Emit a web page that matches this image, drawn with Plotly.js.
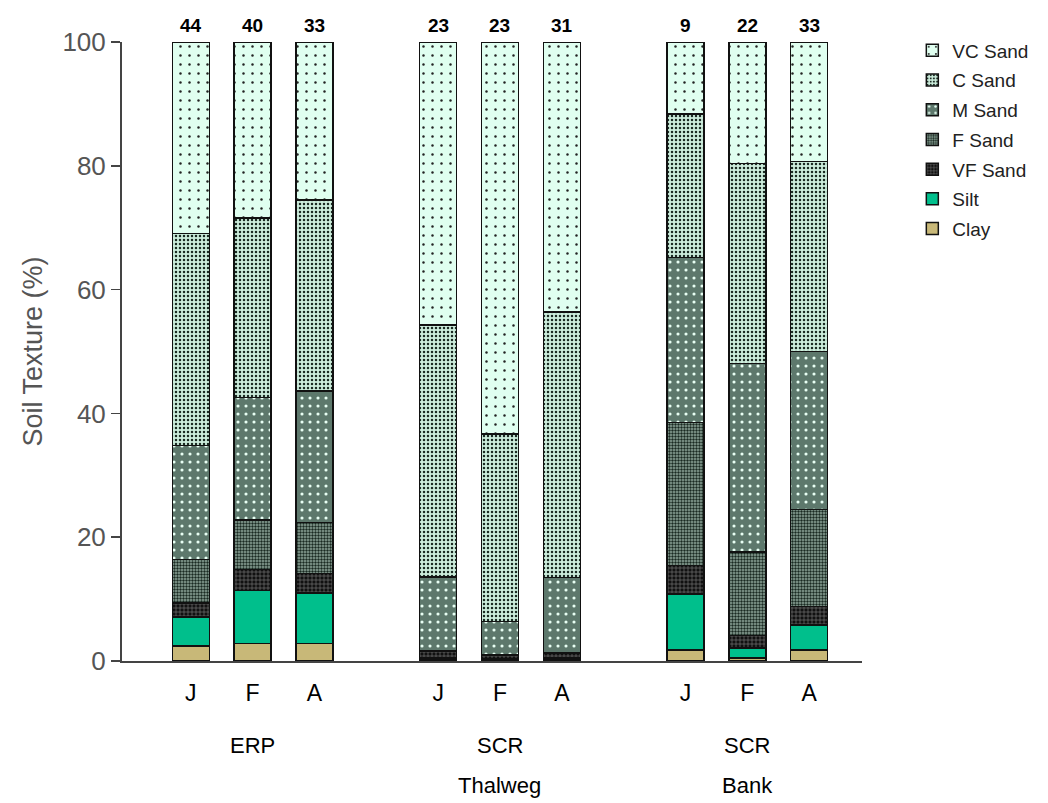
<!DOCTYPE html>
<html>
<head>
<meta charset="utf-8">
<script src="https://cdn.plot.ly/plotly-3.0.1.min.js"></script>
<style>html,body{margin:0;padding:0;background:#fff;}#chart{width:1048px;height:803px;}</style>
</head>
<body>
<div id="chart"></div>
<script>
// ---- data ----
var slots = [0, 1, 2, 4, 5, 6, 8, 9, 10];
var monthLabels = ['J', 'F', 'A', 'J', 'F', 'A', 'J', 'F', 'A'];
var sampleCounts = [44, 40, 33, 23, 23, 31, 9, 22, 33];
var groupLine1 = ['ERP', 'SCR', 'SCR'];
var groupLine2 = ['', 'Thalweg', 'Bank'];
var groupSlots = [1, 5, 9];

var clay   = [2.4, 2.8, 2.8, 0.3, 0.2, 0.3, 1.8, 0.5, 1.8];
var silt   = [4.7, 8.6, 8.2, 0.3, 0.2, 0.2, 9.0, 1.6, 4.0];
var vfSand = [2.3, 3.4, 3.1, 0.9, 0.5, 0.7, 4.6, 2.0, 3.0];
var fSand  = [7.0, 8.0, 8.3, 0.1, 0.1, 0.1, 23.1, 13.5, 15.7];
var mSand  = [18.4, 19.8, 21.2, 12.0, 5.4, 12.2, 26.7, 30.5, 25.5];
var cSand  = [34.3, 29.0, 30.9, 40.7, 30.3, 42.9, 23.2, 32.3, 30.7];
var vcSand = [30.9, 28.4, 25.5, 45.7, 63.3, 43.6, 11.6, 19.6, 19.3];

var seriesNames = ['Clay', 'Silt', 'VF Sand', 'F Sand', 'M Sand', 'C Sand', 'VC Sand'];
var seriesValues = [clay, silt, vfSand, fSand, mSand, cSand, vcSand];

// ---- styles ----
var styles = [
  {color: '#c8b878'},
  {color: '#00bf8c'},
  {color: '#111111', pattern: {shape: '+', bgcolor: '#111111', fgcolor: '#ffffff', size: 4, solidity: 0.25, fillmode: 'overlay'}},
  {color: '#6f8a7e', pattern: {shape: '.', bgcolor: '#8fa89c', fgcolor: '#1a2a22', size: 3, solidity: 0.5}},
  {color: '#5d786c', pattern: {shape: '.', bgcolor: '#5d786c', fgcolor: '#e8fff4', size: 8, solidity: 0.12}},
  {color: '#bfe0cf', pattern: {shape: '.', bgcolor: '#cdeedd', fgcolor: '#1a2a22', size: 4, solidity: 0.3}},
  {color: '#e0fff0', pattern: {shape: '.', bgcolor: '#e0fff0', fgcolor: '#222222', size: 9, solidity: 0.06}}
];

var FONT = 'Liberation Sans, Arial, sans-serif';

var traces = seriesNames.map(function (name, i) {
  var m = {color: styles[i].color, line: {color: '#111', width: 1.5}};
  if (styles[i].pattern) m.pattern = styles[i].pattern;
  return {
    type: 'bar', name: name, x: slots, y: seriesValues[i],
    legendgroup: 'g' + i, legendrank: seriesNames.length - i,
    width: 0.6, marker: m, hoverinfo: 'name+y'
  };
});

var annotations = [];
slots.forEach(function (s, i) {
  annotations.push({
    x: s, y: 100, xref: 'x', yref: 'y', yanchor: 'bottom', yshift: 4,
    text: '<b>' + sampleCounts[i] + '</b>', showarrow: false,
    font: {family: FONT, size: 19, color: '#000'}
  });
});
groupSlots.forEach(function (s, i) {
  annotations.push({
    x: s, y: 0, xref: 'x', yref: 'y', yanchor: 'middle', yshift: -84,
    text: groupLine1[i], showarrow: false,
    font: {family: FONT, size: 22, color: '#000'}
  });
  if (groupLine2[i]) {
    annotations.push({
      x: s, y: 0, xref: 'x', yref: 'y', yanchor: 'middle', yshift: -124,
      text: groupLine2[i], showarrow: false,
      font: {family: FONT, size: 22, color: '#000'}
    });
  }
});

var layout = {
  width: 1048, height: 803,
  margin: {l: 122, r: 186, t: 42, b: 142},
  paper_bgcolor: '#fff', plot_bgcolor: '#fff',
  barmode: 'stack',
  showlegend: true,
  legend: {
    x: 1.068, y: 1.017, xanchor: 'left', yanchor: 'top',
    traceorder: 'grouped',
    font: {family: FONT, size: 19, color: '#222'},
    tracegroupgap: 2, itemwidth: 30
  },
  xaxis: {
    range: [-1.113, 10.855],
    tickmode: 'array', tickvals: slots, ticktext: monthLabels,
    ticks: '', showgrid: false, zeroline: false,
    showline: true, linecolor: '#444', linewidth: 2,
    tickfont: {family: FONT, size: 23, color: '#000'},
    ticklabelstandoff: 10
  },
  yaxis: {
    range: [0, 100],
    tickvals: [0, 20, 40, 60, 80, 100],
    ticks: 'outside', ticklen: 9, tickcolor: '#444', tickwidth: 1.5,
    showgrid: false, zeroline: false,
    showline: true, linecolor: '#444', linewidth: 2,
    tickfont: {family: FONT, size: 26, color: '#555'},
    title: {text: 'Soil Texture (%)', font: {family: FONT, size: 27, color: '#555'}, standoff: 12}
  },
  annotations: annotations
};

Plotly.newPlot('chart', traces, layout, {displayModeBar: false, staticPlot: true});
</script>
</body>
</html>
